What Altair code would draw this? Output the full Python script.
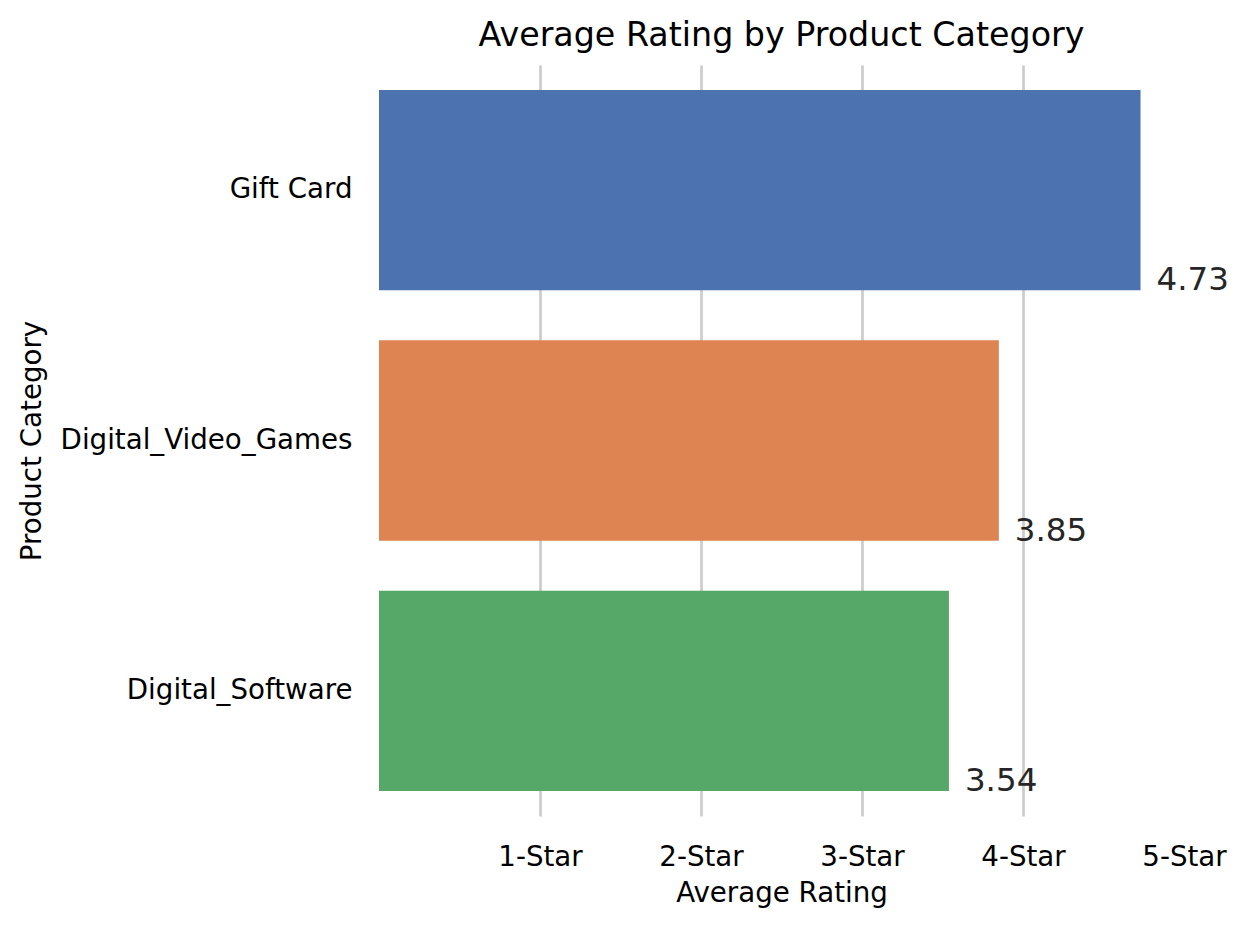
import altair as alt
import pandas as pd

categories = ["Gift Card", "Digital_Video_Games", "Digital_Software"]
ratings = [4.73, 3.85, 3.54]
colors = ["#4c72b0", "#dd8452", "#55a868"]
star_ticks = [1, 2, 3, 4, 5]

df = pd.DataFrame({
    "category": categories,
    "rating": ratings,
    "label": [f"{r:.2f}" for r in ratings],
})

FONT = "DejaVu Sans"
W, H = 805, 751

x_scale = alt.Scale(domain=[0, 5], nice=False, zero=True)
y_scale = alt.Scale(domain=categories, paddingInner=0.2, paddingOuter=0.1)

base = alt.Chart(df)

bars = base.mark_bar().encode(
    x=alt.X(
        "rating:Q",
        scale=x_scale,
        axis=alt.Axis(
            values=star_ticks,
            labelExpr="datum.value + '-Star'",
            title="Average Rating",
            grid=True,
            gridColor="#cccccc",
            gridWidth=2.7,
            gridOpacity={"condition": {"test": "datum.value >= 5", "value": 0}, "value": 1},
            domain=False,
            ticks=False,
            tickSize=0,
            labelFont=FONT,
            labelFontSize=27.7,
            labelColor="black",
            labelPadding=27,
            labelFlush=False,
            titleFont=FONT,
            titleFontSize=27.7,
            titleFontWeight="normal",
            titleColor="black",
            titlePadding=9,
        ),
    ),
    y=alt.Y(
        "category:N",
        scale=y_scale,
        axis=alt.Axis(
            title="Product Category",
            grid=False,
            domain=False,
            ticks=False,
            tickSize=0,
            labelFont=FONT,
            labelFontSize=27.7,
            labelColor="black",
            labelPadding=27,
            labelLimit=400,
            titleFont=FONT,
            titleFontSize=27.7,
            titleFontWeight="normal",
            titleColor="black",
            titleX=-347,
            titleY=H / 2,
            titleAngle=270,
            titleAlign="center",
            titleBaseline="middle",
        ),
    ),
    color=alt.Color(
        "category:N",
        scale=alt.Scale(domain=categories, range=colors),
        legend=None,
    ),
)

text = base.mark_text(
    align="left",
    baseline="alphabetic",
    dx=16,
    fontSize=32.5,
    font=FONT,
    color="#262626",
).encode(
    x=alt.X("rating:Q", scale=x_scale),
    y=alt.Y("category:N", scale=y_scale, bandPosition=1),
    text="label:N",
)

chart = (
    alt.layer(bars, text)
    .properties(
        width=W,
        height=H,
        background="white",
        title=alt.TitleParams(
            "Average Rating by Product Category",
            font=FONT,
            fontSize=33.3,
            fontWeight="normal",
            color="black",
            anchor="middle",
            frame="group",
            offset=12,
        ),
        autosize=alt.AutoSizeParams(type="none"),
        padding={"left": 371, "top": 57, "right": 60, "bottom": 100},
    )
    .configure_view(stroke="transparent", strokeWidth=0)
)

chart.save("out.html", embed_options={"renderer": "svg", "actions": False})
